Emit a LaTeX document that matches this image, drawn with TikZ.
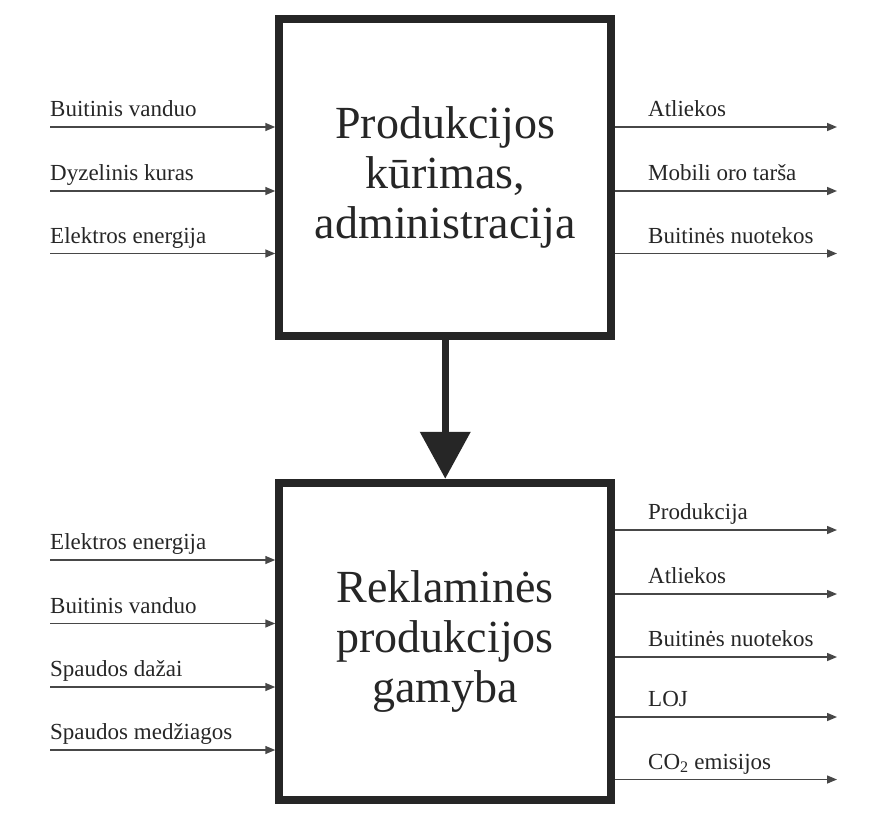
\documentclass[tikz,border=0pt]{standalone}
\usepackage{fontspec}
\setmainfont{Liberation Serif}
\usetikzlibrary{arrows.meta}
\definecolor{ink}{RGB}{38,38,38}

\begin{document}
\begin{tikzpicture}[x=1pt,y=-1pt,
  stage/.style={draw=ink, line width=8pt, minimum width=332pt, minimum height=317pt, inner sep=0pt, align=center, text=ink, font=\fontsize{46}{50}\selectfont},
  lbl/.style={anchor=base west, inner sep=0pt, text=ink, font=\fontsize{23}{27}\selectfont},
  flow/.style={draw=ink!85, line width=1.5pt, -{Triangle[length=10pt,width=8pt]}},
  main/.style={draw=ink, line width=7.5pt, -{Triangle[length=47pt,width=49pt]}}]

\useasboundingbox (0,0) rectangle (872,825);

\node[stage] (admin) at (445.25,177) {Produkcijos\\kūrimas,\\administracija};
\node[stage] (gamyba) at (445.25,641.25) {Reklaminės\\produkcijos\\gamyba};

\draw[main] (admin.south) -- (gamyba.north);

% top inputs
\coordinate (a1) at (50,127);
\coordinate (a2) at (50,191);
\coordinate (a3) at (50,253.5);
\node[lbl] (la1) at (50,116.5) {Buitinis vanduo};
\node[lbl] (la2) at (50,180.5) {Dyzelinis kuras};
\node[lbl] (la3) at (50,243) {Elektros energija};
\draw[flow] (a1) -- (a1 -| admin.west);
\draw[flow] (a2) -- (a2 -| admin.west);
\draw[flow] (a3) -- (a3 -| admin.west);

% top outputs
\coordinate (b1) at (837,127);
\coordinate (b2) at (837,191);
\coordinate (b3) at (837,253.5);
\node[lbl] (lb1) at (648,116.5) {Atliekos};
\node[lbl] (lb2) at (648,180.5) {Mobili oro tarša};
\node[lbl] (lb3) at (648,243) {Buitinės nuotekos};
\draw[flow] (b1 -| admin.east) -- (b1);
\draw[flow] (b2 -| admin.east) -- (b2);
\draw[flow] (b3 -| admin.east) -- (b3);

% bottom inputs
\coordinate (c1) at (50,560);
\coordinate (c2) at (50,623.5);
\coordinate (c3) at (50,687);
\coordinate (c4) at (50,750);
\node[lbl] (lc1) at (50,549.5) {Elektros energija};
\node[lbl] (lc2) at (50,613) {Buitinis vanduo};
\node[lbl] (lc3) at (50,676.5) {Spaudos dažai};
\node[lbl] (lc4) at (50,739.5) {Spaudos medžiagos};
\draw[flow] (c1) -- (c1 -| gamyba.west);
\draw[flow] (c2) -- (c2 -| gamyba.west);
\draw[flow] (c3) -- (c3 -| gamyba.west);
\draw[flow] (c4) -- (c4 -| gamyba.west);

% bottom outputs
\coordinate (d1) at (837,530);
\coordinate (d2) at (837,594);
\coordinate (d3) at (837,657);
\coordinate (d4) at (837,717);
\coordinate (d5) at (837,779.5);
\node[lbl] (ld1) at (648,519.5) {Produkcija};
\node[lbl] (ld2) at (648,583.5) {Atliekos};
\node[lbl] (ld3) at (648,646.5) {Buitinės nuotekos};
\node[lbl] (ld4) at (648,706.5) {LOJ};
\node[lbl] (ld5) at (648,769) {CO\textsubscript{2} emisijos};
\draw[flow] (d1 -| gamyba.east) -- (d1);
\draw[flow] (d2 -| gamyba.east) -- (d2);
\draw[flow] (d3 -| gamyba.east) -- (d3);
\draw[flow] (d4 -| gamyba.east) -- (d4);
\draw[flow] (d5 -| gamyba.east) -- (d5);
\end{tikzpicture}
\end{document}
